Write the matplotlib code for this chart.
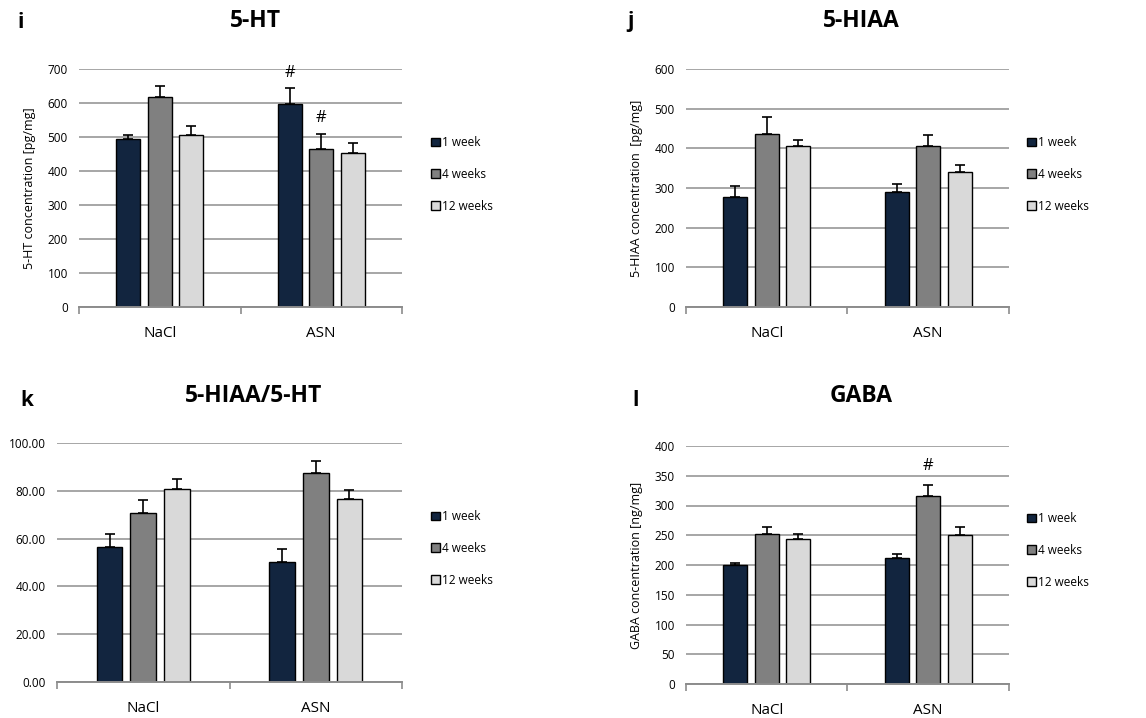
import matplotlib.pyplot as plt
import numpy as np

plt.rcParams['font.family'] = ['Open Sans', 'DejaVu Sans']

groups = ['NaCl', 'ASN']
series = ['1 week', '4 weeks', '12 weeks']
colors = ['#12253f', '#808080', '#d9d9d9']

# values per series: [NaCl, ASN]
ht_vals = [[495, 597], [617, 466], [505, 453]]
ht_err = [[10, 48], [33, 43], [26, 28]]

hiaa_vals = [[278, 289], [435, 407], [405, 341]]
hiaa_err = [[26, 20], [45, 27], [17, 18]]

ratio_vals = [[56.5, 50.2], [70.6, 87.6], [80.8, 76.4]]
ratio_err = [[5.3, 5.6], [5.7, 4.7], [4.0, 4.0]]

gaba_vals = [[200.8, 211.5], [251.7, 316], [243.4, 250.6]]
gaba_err = [[3, 6.5], [12, 19], [9.5, 13]]

W, H = 1146, 718
fig = plt.figure(figsize=(W / 100, H / 100), dpi=100)


def px_axes(left, right, top, bottom):
    return fig.add_axes([left / W, 1 - bottom / H, (right - left) / W, (bottom - top) / H])


def panel(ax, vals, errs, ymax, step, ylabel, fmt=None, marks=()):
    x = np.arange(len(groups))
    offsets = [-0.195, 0, 0.195]
    for i in range(3):
        ax.bar(x + offsets[i], vals[i], width=0.148, color=colors[i],
               edgecolor='black', linewidth=1.0, zorder=3, label=series[i])
        ax.errorbar(x + offsets[i], vals[i], yerr=[np.zeros(2), errs[i]], fmt='none',
                    ecolor='black', elinewidth=1.2, capsize=3.6, capthick=1.2, zorder=4)
    for s, g, yv in marks:
        ax.text(x[g] + offsets[s], yv, '#', ha='center', va='center', fontsize=12)
    ax.set_xlim(-0.5, 1.5)
    ax.set_ylim(0, ymax)
    ticks = np.arange(0, ymax + step / 2, step)
    ax.set_yticks(ticks)
    if fmt:
        ax.set_yticklabels([fmt % v for v in ticks])
    ax.yaxis.grid(True, color='#a6a6a6', linewidth=1.4, zorder=0)
    ax.set_axisbelow(True)
    for sp in ['top', 'right', 'left']:
        ax.spines[sp].set_visible(False)
    ax.spines['bottom'].set_color('#8c8c8c')
    ax.spines['bottom'].set_linewidth(1.4)
    ax.spines['bottom'].set_zorder(5)
    ax.tick_params(axis='y', length=0, labelsize=8.5, pad=8)
    ax.set_xticks([-0.5, 0.5, 1.5])
    ax.set_xticklabels([])
    ax.set_xticks([0, 1], minor=True)
    ax.set_xticklabels(groups, minor=True, fontsize=11)
    ax.tick_params(axis='x', which='major', length=5, color='#8c8c8c', width=1.2, direction='out')
    ax.tick_params(axis='x', which='minor', length=0, pad=14)
    if ylabel:
        ax.set_ylabel(ylabel, fontsize=9, labelpad=8)


ax1 = px_axes(79, 402, 69, 307)
panel(ax1, ht_vals, ht_err, 700, 100, '5-HT concentration [pg/mg]',
      marks=[(0, 1, 687), (1, 1, 557)])
ax2 = px_axes(686, 1009, 69, 307)
panel(ax2, hiaa_vals, hiaa_err, 600, 100, '5-HIAA concentration  [pg/mg]')
ax3 = px_axes(57, 402, 443, 682)
panel(ax3, ratio_vals, ratio_err, 100, 20, None, fmt='%.2f')
ax4 = px_axes(686, 1009, 446, 684)
panel(ax4, gaba_vals, gaba_err, 400, 50, 'GABA concentration [ng/mg]',
      marks=[(1, 1, 367)])

# titles and panel letters
titles = [('5-HT', 255, 21), ('5-HIAA', 861, 21), ('5-HIAA/5-HT', 254, 396), ('GABA', 861, 396)]
for t, xp, yp in titles:
    fig.text(xp / W, 1 - yp / H, t, ha='center', va='center', fontsize=16.5, fontweight='bold')
letters = [('i', 21, 22), ('j', 630, 22), ('k', 27, 401), ('l', 636, 400)]
for t, xp, yp in letters:
    fig.text(xp / W, 1 - yp / H, t, ha='center', va='center', fontsize=15, fontweight='bold')

# legends
for ax, lx, ly in [(ax1, 431, 136), (ax2, 1027, 136), (ax3, 431, 510), (ax4, 1027, 512)]:
    ax.legend(loc='upper left', bbox_to_anchor=(lx / W, 1 - ly / H), bbox_transform=fig.transFigure,
              frameon=False, fontsize=8.5, handlelength=0.75, handleheight=0.75,
              handletextpad=0.2, labelspacing=1.6, borderpad=0, borderaxespad=0)

plt.savefig('out.png', dpi=100)
